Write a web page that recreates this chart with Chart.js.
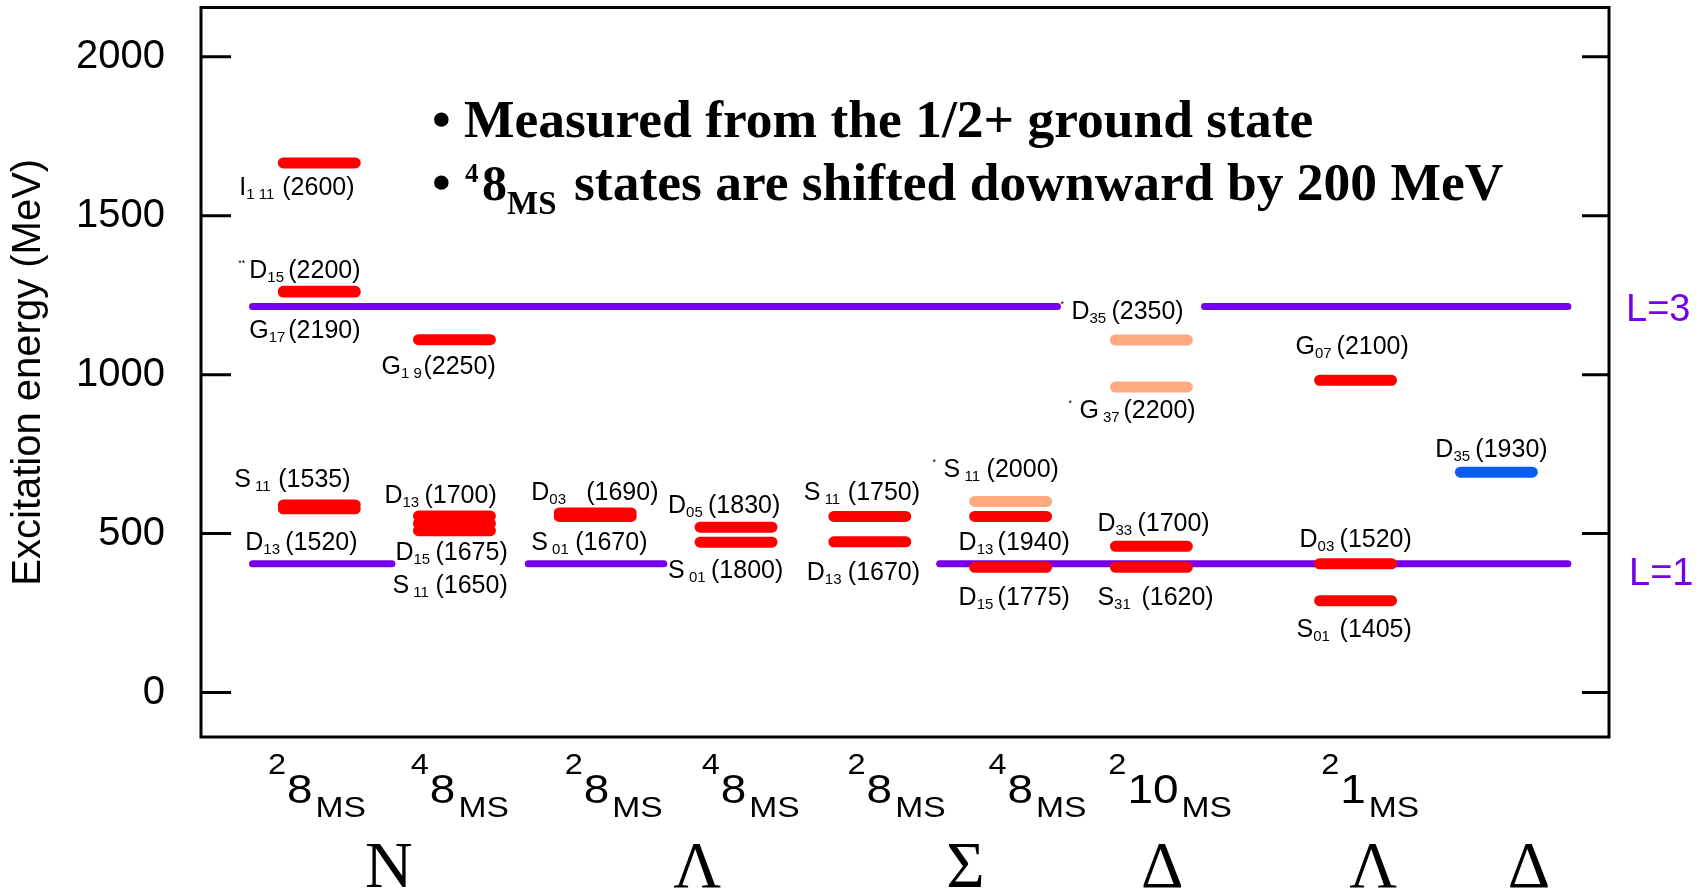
<!DOCTYPE html>
<html>
<head>
<meta charset="utf-8">
<title>Excitation energies</title>
<script src="https://cdn.jsdelivr.net/npm/chart.js"></script>
<style>
    html, body { margin: 0; padding: 0; background: #fff; }
    #chartBox { width: 1705px; height: 894px; }
</style>
</head>
<body>
<div id="chartBox"><canvas id="levels" width="1705" height="894"></canvas></div>
<script>
    // multiplet columns along x (axis units 0..10)
    const columnPos = [0.84, 1.80, 2.80, 3.80, 4.75, 5.75, 6.75, 8.20, 9.20];

    // x tick labels: spin multiplicity, SU(3) rep, and where they sit
    const tickSup = ['2', '4', '2', '4', '2', '4', '2', '2'];
    const tickRep = ['8', '8', '8', '8', '8', '8', '10', '1'];
    const tickAt = [0.476, 1.49, 2.583, 3.556, 4.592, 5.593, 6.444, 7.956];
    const familyName = ['N', 'Λ', 'Σ', 'Δ', 'Λ', 'Δ'];
    const familyAt = [1.334, 3.524, 5.429, 6.827, 8.325, 9.432];

    // y axis
    const yTicks = [0, 500, 1000, 1500, 2000];

    // resonances: column, name, subscript, mass (MeV), excitation energy (MeV), group
    const stateCol = [0, 0, 0, 0, 0, 1, 1, 1, 1, 2, 2, 3, 3, 4, 4, 5, 5, 5, 6, 6, 6, 6, 7, 7, 7, 8];
    const stateName = ['I', 'D', 'G', 'S', 'D', 'G', 'D', 'D', 'S', 'D', 'S', 'D', 'S',
                       'S', 'D', 'S', 'D', 'D', 'D', 'G', 'D', 'S', 'G', 'D', 'S', 'D'];
    const stateSub = ['1 11', '15', '17', ' 11', '13', '1 9', '13', '15', ' 11', '03', ' 01', '05', ' 01',
                      ' 11', '13', ' 11', '13', '15', '35', ' 37', '33', '31', '07', '03', '01', '35'];
    const stateMass = [2600, 2200, 2190, 1535, 1520, 2250, 1700, 1675, 1650, 1690, 1670, 1830, 1800,
                       1750, 1670, 2000, 1940, 1775, 2350, 2200, 1700, 1620, 2100, 1520, 1405, 1930];
    const stateExc = [1666, 1262, 1260, 590, 578, 1110, 555, 532, 509, 565, 554, 520, 473,
                      554, 474, 601, 554, 394, 1109, 961, 460, 394, 982, 405, 289, 693];
    const stateGroup = [0, 0, 0, 0, 0, 0, 0, 0, 0, 0, 0, 0, 0,
                        0, 0, 1, 0, 0, 1, 1, 0, 0, 0, 0, 0, 2];
    const stateStars = ['', '**', '', '', '', '', '', '', '', '', '', '', '',
                        '', '', '*', '', '', '*', '*', '', '', '', '', '', ''];

    // orbital excitation reference levels
    const orbitalName = ['L=1', 'L=3'];
    const orbitalExc = [405, 1214];

    // ---- layout / style ----
    const FONT = '"Liberation Sans", Arial, Helvetica, sans-serif';
    const SERIF = '"Liberation Serif", "Times New Roman", serif';
    const levelColors = ['#ff0000', '#ffaa80', '#0a5cf5'];
    const purple = 'rgb(118, 0, 232)';
    const barHalf = 0.2555;
    const orbitalSpans = [
        [[0.366, 1.356], [2.324, 3.287], [5.246, 9.708]],
        [[0.366, 6.083], [7.127, 9.708]]
    ];
    const orbitalLabelOff = [[20, 21], [17, 14]];
    // [name dx, baseline dy, mass dx] in px from the bar centre
    const labelOff = [
        [-80, 32, -37], [-70, -13, -31], [-70, 46, -31], [-85, -18, -41], [-74, 41, -34],
        [-73, 34, -31], [-70, -13, -30], [-59, 37, -19], [-62, 62, -19],
        [-64, -13, -9], [-64, 34, -20], [-68, -14, -28], [-68, 36, -25],
        [-66, -16, -22], [-63, 38, -22], [-67, -24, -24], [-52, 34, -13], [-52, 38, -13],
        [-80, -21, -40], [-72, 31, -28], [-54, -15, -14], [-54, 38, -10],
        [-60, -26, -19], [-56, -17, -16], [-59, 36, -16], [-61, -15, -21]
    ];

    function levelDataset(group) {
        const pts = [];
        stateExc.forEach((v, i) => {
            if (stateGroup[i] !== group) return;
            const c = columnPos[stateCol[i]];
            pts.push({x: c - barHalf, y: v}, {x: c + barHalf, y: v}, {x: c, y: null});
        });
        return {
            data: pts,
            borderColor: levelColors[group],
            borderWidth: 11,
            borderCapStyle: 'round',
            pointRadius: 0,
            spanGaps: false,
            fill: false,
            order: 1
        };
    }

    function orbitalDataset(k) {
        const pts = [];
        orbitalSpans[k].forEach(s => {
            pts.push({x: s[0], y: orbitalExc[k]}, {x: s[1], y: orbitalExc[k]}, {x: s[1], y: null});
        });
        return {
            data: pts,
            borderColor: purple,
            borderWidth: 7,
            borderCapStyle: 'round',
            pointRadius: 0,
            spanGaps: false,
            fill: false,
            order: 2
        };
    }

    function stretchText(ctx, text, x, y, font, sx) {
        ctx.save();
        ctx.font = font;
        ctx.translate(x, y);
        ctx.scale(sx, 1);
        ctx.fillText(text, 0, 0);
        const w = ctx.measureText(text).width * sx;
        ctx.restore();
        return w;
    }

    const framePlugin = {
        id: 'frame',
        beforeDatasetsDraw(chart) {
            const {ctx, chartArea: a, scales: {y}} = chart;
            ctx.save();
            ctx.strokeStyle = '#000';
            ctx.lineWidth = 3;
            ctx.strokeRect(a.left, a.top, a.right - a.left, a.bottom - a.top);
            ctx.beginPath();
            yTicks.forEach(v => {
                const py = y.getPixelForValue(v);
                ctx.moveTo(a.left, py); ctx.lineTo(a.left + 30, py);
                ctx.moveTo(a.right - 27, py); ctx.lineTo(a.right, py);
            });
            ctx.stroke();
            ctx.restore();
        }
    };

    const textPlugin = {
        id: 'texts',
        afterDatasetsDraw(chart) {
            const {ctx, chartArea: a, scales: {x, y}} = chart;
            ctx.save();
            ctx.fillStyle = '#000';
            ctx.textBaseline = 'alphabetic';
            ctx.textAlign = 'left';

            // resonance labels
            stateExc.forEach((v, i) => {
                const px = x.getPixelForValue(columnPos[stateCol[i]]);
                const py = y.getPixelForValue(v);
                const [dx, dy, mdx] = labelOff[i];
                if (stateStars[i]) {
                    ctx.font = `9px ${FONT}`;
                    ctx.fillText(stateStars[i], px + dx - 11, py + dy - 12);
                }
                ctx.font = `25px ${FONT}`;
                ctx.fillText(stateName[i], px + dx, py + dy);
                const w = ctx.measureText(stateName[i]).width;
                ctx.font = `15px ${FONT}`;
                ctx.fillText(stateSub[i], px + dx + w, py + dy + 4);
                ctx.font = `25px ${FONT}`;
                ctx.fillText('(' + stateMass[i] + ')', px + mdx, py + dy);
            });

            // L=1, L=3
            ctx.fillStyle = purple;
            ctx.font = `38px ${FONT}`;
            orbitalExc.forEach((v, k) => {
                const py = y.getPixelForValue(v);
                ctx.fillText(orbitalName[k], a.right + orbitalLabelOff[k][0], py + orbitalLabelOff[k][1]);
            });

            // x tick labels
            ctx.fillStyle = '#000';
            const sx = 1.12;
            tickAt.forEach((at, i) => {
                const x0 = x.getPixelForValue(at);
                const w1 = stretchText(ctx, tickSup[i], x0, a.bottom + 37, `29px ${FONT}`, sx);
                const w2 = stretchText(ctx, tickRep[i], x0 + w1 + 1, a.bottom + 66, `41px ${FONT}`, sx);
                stretchText(ctx, 'MS', x0 + w1 + w2 + 4, a.bottom + 80, `30px ${FONT}`, sx);
            });
            ctx.textAlign = 'center';
            ctx.font = `66px ${SERIF}`;
            familyAt.forEach((at, i) => {
                ctx.fillText(familyName[i], x.getPixelForValue(at), a.bottom + 150);
            });

            // note
            ctx.textAlign = 'left';
            const bx = a.left + 231;
            ctx.font = `bold 53.5px ${SERIF}`;
            ctx.fillText('•', bx, a.top + 129);
            ctx.fillText('Measured from the 1/2+ ground state', bx + 32, a.top + 129);
            ctx.fillText('•', bx, a.top + 192.5);
            ctx.font = `bold 27px ${SERIF}`;
            ctx.fillText('4', bx + 33, a.top + 174);
            ctx.font = `bold 50px ${SERIF}`;
            ctx.fillText('8', bx + 50, a.top + 192.5);
            ctx.font = `bold 33px ${SERIF}`;
            ctx.fillText('MS', bx + 75, a.top + 206);
            ctx.font = `bold 53.5px ${SERIF}`;
            ctx.fillText('states are shifted downward by 200 MeV', bx + 142, a.top + 192.5);
            ctx.restore();
        }
    };

    const datasets = [
        levelDataset(0), levelDataset(1), levelDataset(2),
        orbitalDataset(0), orbitalDataset(1)
    ];

    new Chart(document.getElementById('levels'), {
        type: 'line',
        data: { datasets: datasets },
        options: {
            responsive: false,
            animation: false,
            devicePixelRatio: 1,
            layout: { padding: { top: 7.5, right: 96, bottom: 157, left: 0 } },
            plugins: { legend: { display: false }, tooltip: { enabled: false } },
            scales: {
                x: { type: 'linear', min: 0, max: 10, display: false },
                y: {
                    type: 'linear',
                    min: -140,
                    max: 2155,
                    afterFit(s) { s.width = 201; s.paddingTop = 0; s.paddingBottom = 0; },
                    afterBuildTicks(s) { s.ticks = yTicks.map(v => ({value: v})); },
                    grid: { display: false, drawTicks: false },
                    border: { display: false },
                    ticks: {
                        font: { family: FONT, size: 40 },
                        color: '#000',
                        padding: 36,
                        callback: v => String(v)
                    },
                    title: {
                        display: true,
                        text: 'Excitation energy (MeV)',
                        font: { family: FONT, size: 40 },
                        color: '#000',
                        padding: { top: 5, bottom: 0 }
                    }
                }
            }
        },
        plugins: [framePlugin, textPlugin]
    });
</script>
</body>
</html>
